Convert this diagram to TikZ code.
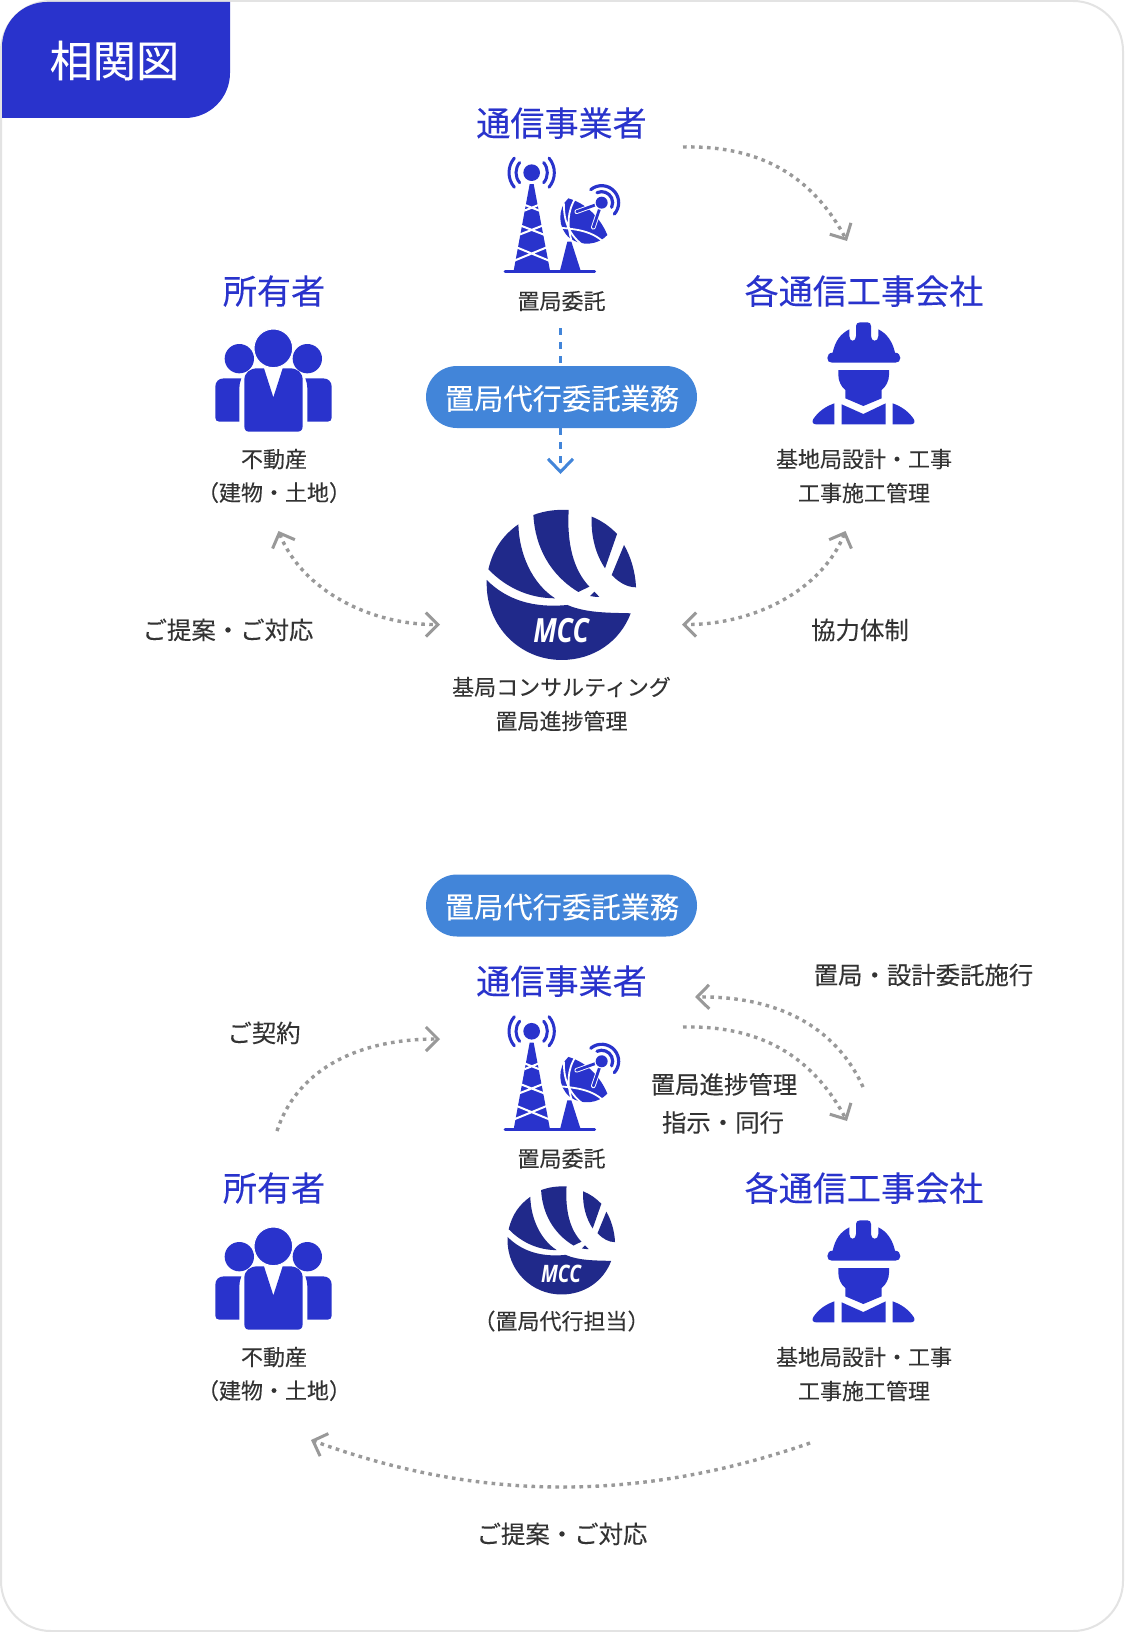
\documentclass[tikz,border=0pt]{standalone}
\usepackage{fontspec}
\usetikzlibrary{arrows.meta}
\setmainfont[FakeBold=0.12]{Noto Sans CJK JP}
\newfontfamily\logofont{Open Sans}
\definecolor{royal}{HTML}{2933CC}
\definecolor{pillblue}{HTML}{4285D9}
\definecolor{navy}{HTML}{20298A}
\definecolor{ink}{HTML}{333333}
\definecolor{dots}{HTML}{999999}
\tikzset{
  txt/.style={inner sep=0pt,text=ink,font=\fontsize{11}{13}\selectfont,text height=9.7pt,text depth=1.3pt},
  txtb/.style={inner sep=0pt,text=ink,font=\fontsize{12.2}{14}\selectfont,text height=10.7pt,text depth=1.5pt},
  head/.style={inner sep=0pt,text=royal,font=\fontsize{17.05}{20}\selectfont,text height=15pt,text depth=2pt},
  pill/.style={fill=pillblue,rounded corners=15.5pt,minimum width=135.5pt,minimum height=31pt,inner sep=0pt},
  pilltext/.style={inner sep=0pt,text=white,font=\fontsize{14.65}{17}\selectfont},
  dotline/.style={dots,line width=1.7pt,dash pattern=on 1.8pt off 2.2pt},
  oneway/.style={dotline,-{Straight Barb[length=6pt,width=12pt,line width=1.5pt]}},
  twoway/.style={dotline,{Straight Barb[length=6pt,width=12pt,line width=1.5pt]}-{Straight Barb[length=6pt,width=12pt,line width=1.5pt]}},
  blueline/.style={pillblue,line width=1.8pt,dash pattern=on 3.5pt off 3.5pt},
}
\newcommand{\towericon}[2]{%
\begin{scope}[shift={(#1,#2)},scale=1/3]
 \fill[royal] (185,98) circle[radius=25];
 \draw[royal,line width=1.5pt,line cap=round] (185,98) ++(140:47) arc[start angle=140,end angle=220,radius=47];
 \draw[royal,line width=1.5pt,line cap=round] (185,98) ++(140:68) arc[start angle=140,end angle=220,radius=68];
 \draw[royal,line width=1.5pt,line cap=round] (185,98) ++(-40:47) arc[start angle=-40,end angle=40,radius=47];
 \draw[royal,line width=1.5pt,line cap=round] (185,98) ++(-40:68) arc[start angle=-40,end angle=40,radius=68];
 \fill[royal] (179,132) -- (191,132) -- (240,392) -- (131,392) -- cycle;
 \draw[white,line width=1pt] (128,364) -- (240,318) (242,364) -- (130,318)
   (143,286) -- (225,254) (227,286) -- (145,254)
   (163,212) -- (208,194) (208,212) -- (163,194);
 \fill[royal] (292,305) -- (304,305) -- (332,392) -- (270,392) -- cycle;
 \draw[royal,line width=1.5pt,line cap=round] (105,394) -- (374,394);
 \fill[royal] (295,175) .. controls (262,205) and (262,265) .. (300,295) .. controls (335,320) and (385,315) .. (412,285) .. controls (400,255) and (365,195) .. (295,175) -- cycle;
 \draw[white,line width=.9pt] (282,190) .. controls (280,245) and (300,290) .. (345,320)
   (262,262) .. controls (310,268) and (370,268) .. (412,318)
   (318,172) .. controls (290,215) and (292,260) .. (304,300);
 \draw[white,line width=2.3pt,line cap=round] (320,215) -- (395,188) -- (370,262);
 \draw[royal,line width=1.4pt,line cap=round] (320,215) -- (395,188) -- (370,262);
 \fill[white] (395,188) circle[radius=22];
 \fill[royal] (395,188) circle[radius=18];
 \draw[royal,line width=1.6pt,line cap=round] (395,188) ++(-115:33) arc[start angle=-115,end angle=25,radius=33];
 \draw[royal,line width=1.6pt,line cap=round] (395,188) ++(-130:51) arc[start angle=-130,end angle=42,radius=51];
\end{scope}}
\newcommand{\peopleicon}[2]{%
\begin{scope}[shift={(#1,#2)},scale=1/3]
 \fill[royal] (118,116) circle[radius=44];
 \fill[royal] (322,116) circle[radius=44];
 \fill[royal] (46,200) .. controls (46,185) and (56,175) .. (72,175) -- (124,175) .. controls (120,185) and (118,195) .. (118,205) -- (118,305) -- (58,305) .. controls (50,305) and (46,300) .. (46,293) -- cycle;
 \fill[royal] (395,200) .. controls (395,185) and (385,175) .. (369,175) -- (316,175) .. controls (320,185) and (322,195) .. (322,205) -- (322,305) -- (383,305) .. controls (391,305) and (395,300) .. (395,293) -- cycle;
 \fill[royal] (133,180) .. controls (133,158) and (150,145) .. (172,145) -- (192,145) -- (220,232) -- (248,145) -- (270,145) .. controls (292,145) and (308,158) .. (308,180) -- (308,318) .. controls (308,330) and (302,335) .. (292,335) -- (148,335) .. controls (138,335) and (133,330) .. (133,318) -- cycle;
 \fill[royal,draw=white,line width=.5pt] (220,85) circle[radius=58];
\end{scope}}
\newcommand{\workericon}[2]{%
\begin{scope}[shift={(#1,#2)},scale=1/3]
 \fill[royal] (128,128) .. controls (135,95) and (150,72) .. (178,58) -- (178,78) .. controls (178,97) and (198,97) .. (198,78) -- (198,48) .. controls (198,41) and (203,37) .. (210,37) -- (232,37) .. controls (239,37) and (243,41) .. (243,48) -- (243,78) .. controls (243,97) and (265,97) .. (265,78) -- (265,58) .. controls (290,70) and (308,95) .. (315,128) .. controls (325,128) and (331,135) .. (331,144) .. controls (331,153) and (325,158) .. (316,158) -- (126,158) .. controls (117,158) and (112,153) .. (112,144) .. controls (112,135) and (118,128) .. (128,128) -- cycle;
 \fill[royal] (145,180) -- (297,180) -- (297,195) .. controls (297,212) and (288,230) .. (275,240) -- (275,265) -- (220,288) -- (166,265) -- (166,240) .. controls (153,230) and (145,212) .. (145,195) -- cycle;
 \fill[royal] (155,283) -- (220,312) -- (287,280) -- (287,343) -- (155,343) -- cycle;
 \fill[royal] (133,280) -- (133,343) -- (78,343) .. controls (68,343) and (65,335) .. (70,327) .. controls (85,305) and (105,290) .. (133,280) -- cycle;
 \fill[royal] (308,280) -- (308,343) -- (363,343) .. controls (373,343) and (376,335) .. (371,327) .. controls (356,305) and (336,290) .. (308,280) -- cycle;
\end{scope}}
\newcommand{\mccicon}[4]{%
\begin{scope}[shift={(#1,#2)},scale=#3/3,shift={(-275,-253)}]
 \fill[navy] (145,73) .. controls (147,160) and (185,250) .. (255,295) .. controls (180,295) and (110,265) .. (55,208) .. controls (70,145) and (100,105) .. (145,73) -- cycle;
 \fill[navy] (190,45) .. controls (225,32) and (260,28) .. (296,30) .. controls (290,130) and (310,210) .. (358,260) -- (325,276) .. controls (240,225) and (195,140) .. (190,45) -- cycle;
 \fill[navy] (365,50) .. controls (395,62) and (420,80) .. (441,102) -- (405,205) .. controls (378,165) and (362,110) .. (365,50) -- cycle;
 \fill[navy] (462,135) .. controls (482,170) and (496,215) .. (498,262) .. controls (472,262) and (447,248) .. (425,225) -- cycle;
 \fill[navy] (360,288) -- (373,275) -- (388,291) .. controls (378,291) and (368,290) .. (360,288) -- cycle;
 \fill[navy] (50,240) .. controls (110,300) and (190,325) .. (292,315) .. controls (350,340) and (420,338) .. (482,340) .. controls (450,425) and (370,480) .. (275,480) .. controls (150,480) and (50,380) .. (50,253) -- cycle;
 \node[inner sep=0pt,text=white,transform shape,xscale=.8,font=\logofont\bfseries\itshape\fontsize{50}{54}\selectfont] (#4) at (273,393) {MCC};
\end{scope}}
\begin{document}
\begin{tikzpicture}[x=0.5pt,y=-0.5pt]
\useasboundingbox (0,0) rectangle (1124,1632);
\fill[white] (0,0) rectangle (1124,1632);
\draw[draw=black!11,line width=1pt,rounded corners=25pt] (1,1) rectangle (1123,1631);
\fill[royal] (2,118) -- (2,47) arc[start angle=180,end angle=270,radius=45] -- (230,2) -- (230,73) arc[start angle=0,end angle=90,radius=45] -- cycle;
\node[inner sep=0pt,text=white,font=\fontsize{21.6}{25}\selectfont] (title) at (114.5,60.5) {相関図};

% upper block
\node[head] (carrierA) at (561.5,123) {通信事業者};
\towericon{470}{140}
\node[txt] (carrierAsub) at (561.5,301) {置局委託};
\node[head] (ownerA) at (274,291) {所有者};
\peopleicon{200}{320}
\node[txt] (ownerAl1) at (274,459) {不動産};
\node[txt] (ownerAl2) at (274,492.5) {（建物・土地）};
\node[head] (contrA) at (864,291) {各通信工事会社};
\workericon{790}{310}
\node[txt] (contrAl1) at (864,459) {基地局設計・工事};
\node[txt] (contrAl2) at (864,493) {工事施工管理};
\node[pill] (pillA) at (561.5,397) {};
\node[pilltext] (pillAt) at (562,398.5) {置局代行委託業務};
\mccicon{561.7}{584.3}{1}{mccA}
\node[txt] (mccAl1) at (561.5,687) {基局コンサルティング};
\node[txt] (mccAl2) at (561.5,721) {置局進捗管理};
\node[txtb] (lblA1) at (228,630) {ご提案・ご対応};
\node[txtb] (lblA2) at (860,630) {協力体制};

\coordinate (bA0) at (560.5,328);
\coordinate (bA1) at (560.5,474);
\draw[blueline] (bA0) -- (bA0 |- pillA.north);
\draw[blueline,-{Straight Barb[length=6.5pt,width=12.5pt,line width=1.5pt]}] (bA1 |- pillA.south) -- (bA1);
\coordinate (a1s) at (683,147);
\coordinate (a1e) at (847,241);
\draw[oneway] (a1s) .. controls (770,145) and (817,185) .. (a1e);
\coordinate (a2s) at (278.5,531);
\coordinate (a2e) at (440,624.5);
\draw[twoway] (a2s) .. controls (302,590) and (370,625) .. (a2e);
\coordinate (a3s) at (845.5,531);
\coordinate (a3e) at (682,624.5);
\draw[twoway] (a3s) .. controls (822,590) and (754,625) .. (a3e);

% lower block
\node[pill] (pillB) at (561.5,905.5) {};
\node[pilltext] (pillBt) at (562,907) {置局代行委託業務};
\node[head] (carrierB) at (561.5,981) {通信事業者};
\towericon{470}{998.6}
\node[txt] (carrierBsub) at (561.5,1158.5) {置局委託};
\mccicon{561.5}{1240}{0.72}{mccB}
\node[txt] (mccBl) at (561.5,1321) {（置局代行担当）};
\node[head] (ownerB) at (274,1188) {所有者};
\peopleicon{200}{1218}
\node[txt] (ownerBl1) at (274,1357) {不動産};
\node[txt] (ownerBl2) at (274,1390.5) {（建物・土地）};
\node[head] (contrB) at (864,1188) {各通信工事会社};
\workericon{790}{1208}
\node[txt] (contrBl1) at (864,1357) {基地局設計・工事};
\node[txt] (contrBl2) at (864,1391) {工事施工管理};
\node[txtb] (lblB1) at (923.5,975) {置局・設計委託施行};
\node[txtb] (lblB2) at (724,1084.5) {置局進捗管理};
\node[txtb] (lblB3) at (723,1122.5) {指示・同行};
\node[txtb] (lblB4) at (264,1033) {ご契約};
\node[txtb] (lblB5) at (562,1534) {ご提案・ご対応};

\coordinate (b1s) at (277,1131);
\coordinate (b1e) at (440,1039);
\draw[oneway] (b1s) .. controls (295,1075) and (350,1039) .. (b1e);
\coordinate (b2s) at (863,1087);
\coordinate (b2e) at (695,997);
\draw[oneway] (b2s) .. controls (835,1025) and (775,996) .. (b2e);
\coordinate (b3s) at (683,1027);
\coordinate (b3e) at (847,1121);
\draw[oneway] (b3s) .. controls (770,1025) and (817,1065) .. (b3e);
\coordinate (b4s) at (810,1443);
\coordinate (b4e) at (311,1440);
\draw[oneway] (b4s) .. controls (640,1502) and (480,1502) .. (b4e);
\end{tikzpicture}
\end{document}
